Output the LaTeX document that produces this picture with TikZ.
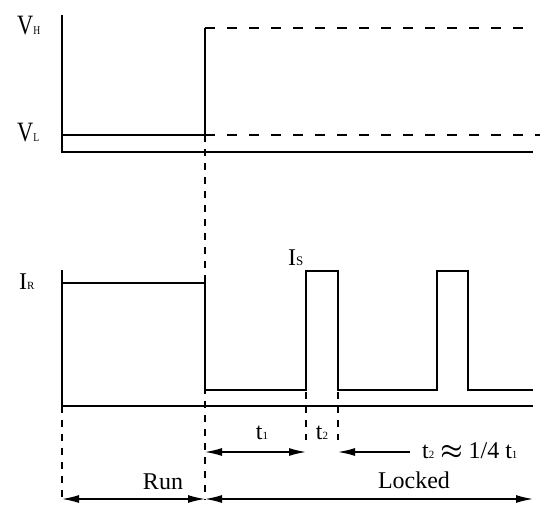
\documentclass[tikz,border=0pt]{standalone}
\usepackage{amsmath}
\usepackage{fontspec}
\setmainfont{Liberation Serif}
\newfontfamily\narrow[FakeStretch=0.8]{Liberation Serif}
\usetikzlibrary{arrows.meta}
\begin{document}
\begin{tikzpicture}[x=1pt,y=-1pt,
  sig/.style={line width=2.2pt},
  axis/.style={line width=1.8pt},
  dshv/.style={line width=1.6pt, dash pattern=on 7pt off 7pt},
  dshh/.style={line width=1.6pt, dash pattern=on 10pt off 12pt},
  lbl/.style={font=\fontsize{24}{24}\selectfont, inner sep=0pt},
  vlbl/.style={font=\narrow\fontsize{28}{28}\selectfont, inner sep=0pt},
  tipped/.style={line width=1.4pt},
  tip/.tip={Latex[length=17pt,width=8pt]}]
\useasboundingbox (0,0) rectangle (557,518);
% ---------- coordinates ----------
\coordinate (ta) at (62,15);
\coordinate (tb) at (62,152);
\coordinate (te) at (533,152);
\coordinate (vl0) at (62,135);
\coordinate (sw) at (205,135);
\coordinate (swh) at (205,28);
\coordinate (vhe) at (533,28);
\coordinate (vle) at (540,135);
\coordinate (swbot) at (205,500);
\coordinate (ba) at (62,270);
\coordinate (bb) at (62,406);
\coordinate (be) at (533,406);
\coordinate (bbot) at (62,500);
\coordinate (p1a) at (306,392);
\coordinate (p1b) at (306,440);
\coordinate (p2a) at (338,392);
\coordinate (p2b) at (338,440);
\coordinate (t1l) at (205,452);
\coordinate (t1r) at (306,452);
\coordinate (t2s) at (410,452);
\coordinate (t2e) at (338,452);
\coordinate (rl) at (62,499);
\coordinate (rr) at (205,499);
\coordinate (lr) at (533,499);
% ---------- top panel ----------
\draw[dshv] (sw) -- (swbot);
\draw[axis] (ta) -- (tb) -- (te);
\draw[sig] (vl0) -- (sw) -- (swh);
\draw[dshh] (swh) -- (vhe);
\draw[dshh] (sw) -- (vle);
% ---------- bottom panel ----------
\draw[axis] (ba) -- (bb) -- (be);
\draw[sig] (62,283) -- (205,283) -- (205,390) -- (306,390) -- (306,271)
  -- (338,271) -- (338,390) -- (437,390) -- (437,271) -- (468,271)
  -- (468,390) -- (533,390);
\draw[dshv] (bb) -- (bbot);
\draw[dshv] (p1a) -- (p1b);
\draw[dshv] (p2a) -- (p2b);
% ---------- dimension arrows ----------
\draw[tipped, tip-tip] (t1l) -- (t1r);
\draw[tipped, -tip] (t2s) -- (t2e);
\draw[tipped, tip-tip] (rl) -- (rr);
\draw[tipped, tip-tip] (rr) -- (lr);
% ---------- labels ----------
\node[vlbl, anchor=base west] (vh) at (17,35) {V{\fontsize{12}{12}\selectfont H}};
\node[vlbl, anchor=base west] (vl) at (17,142) {V{\fontsize{12}{12}\selectfont L}};
\node[lbl, anchor=base west] (ir) at (19,290) {I{\fontsize{11}{11}\selectfont R}};
\node[lbl, anchor=base west] (is) at (288,266) {I{\fontsize{13}{13}\selectfont S}};
\node[lbl, anchor=base] (t1) at (262,439) {t{\fontsize{11}{11}\selectfont 1}};
\node[lbl, anchor=base] (t2) at (322,439) {t{\fontsize{11}{11}\selectfont 2}};
\node[lbl, anchor=base west] (rel) at (422,458) {t{\fontsize{11}{11}\selectfont 2} {\fontsize{30}{30}\selectfont$\boldsymbol{\approx}$} 1/4 t{\fontsize{11}{11}\selectfont 1}};
\node[lbl, anchor=base] (run) at (163,489) {Run};
\node[lbl, anchor=base] (locked) at (414,488) {Locked};
\end{tikzpicture}
\end{document}
